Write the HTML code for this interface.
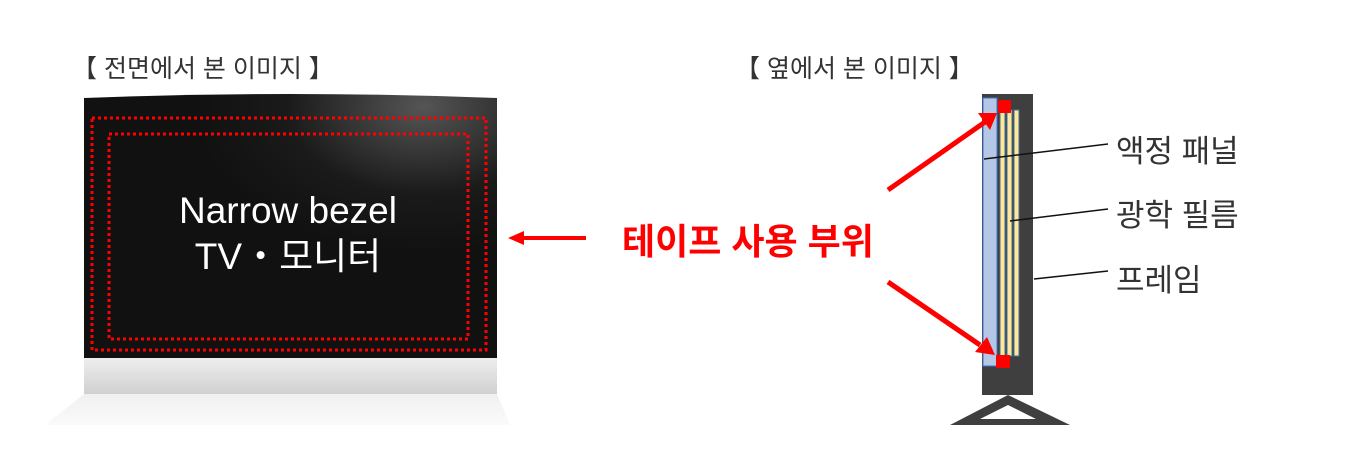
<!DOCTYPE html>
<html><head><meta charset="utf-8"><style>
body{margin:0;width:1360px;height:452px;background:#fff;overflow:hidden;position:relative;font-family:"Liberation Sans","Noto Sans CJK KR",sans-serif}
.t{position:absolute;white-space:nowrap}
</style></head><body>
<svg width="1360" height="452" style="position:absolute;left:0;top:0">
<defs>
<radialGradient id="g" cx="0.82" cy="0.05" r="0.55"><stop offset="0" stop-color="#555"/><stop offset="0.6" stop-color="#1a1a1a"/><stop offset="1" stop-color="#111"/></radialGradient>
<linearGradient id="b" x1="0" y1="0" x2="0" y2="1"><stop offset="0" stop-color="#eee"/><stop offset="1" stop-color="#d0d0d0"/></linearGradient>
<linearGradient id="f" x1="0" y1="0" x2="0" y2="1"><stop offset="0" stop-color="#f0f0f0"/><stop offset="1" stop-color="#fafafa"/></linearGradient>
</defs>
<path d="M84 98 Q290 90 497 98 L497 358 L84 358 Z" fill="url(#g)"/>
<rect x="84" y="358" width="413" height="36" fill="url(#b)"/>
<path d="M84 394 L497 394 L510 425 L45 425 Z" fill="url(#f)"/>
<rect x="92" y="118" width="394" height="232" fill="none" stroke="#f00" stroke-width="3" stroke-dasharray="3 3"/>
<rect x="109" y="134" width="359" height="205" fill="none" stroke="#f00" stroke-width="3" stroke-dasharray="3 3"/>
<line x1="586" y1="238" x2="520" y2="238" stroke="#f00" stroke-width="4"/>
<polygon points="508,238 524,231 524,245" fill="#f00"/>
<rect x="982" y="94" width="51" height="301" fill="#3f3f3f"/>
<rect x="983" y="98" width="14" height="268" fill="#b4c7e7" stroke="#4472c4" stroke-width="1"/>
<rect x="1000" y="108" width="5" height="248" fill="#ffe699" stroke="#41719c"/>
<rect x="1007" y="110" width="5" height="246" fill="#ffe699" stroke="#41719c"/>
<rect x="1014" y="110" width="5" height="246" fill="#ffe699" stroke="#41719c"/>
<rect x="998" y="100" width="13" height="13" fill="#f00"/>
<rect x="996" y="355" width="14" height="13" fill="#f00"/>
<polygon points="1008,395 950,425 1070,425" fill="#3f3f3f"/>
<polygon points="1008,405 980,419 1036,419" fill="#fff"/>
<line x1="888" y1="190" x2="985" y2="122" stroke="#f00" stroke-width="5"/>
<polygon points="997,113 978,113 990,130" fill="#f00"/>
<line x1="888" y1="282" x2="980" y2="345" stroke="#f00" stroke-width="5"/>
<polygon points="995,355 975,352 987,337" fill="#f00"/>
<line x1="984" y1="159" x2="1108" y2="144" stroke="#111" stroke-width="1.5"/>
<line x1="1010" y1="221" x2="1108" y2="209" stroke="#111" stroke-width="1.5"/>
<line x1="1034" y1="279" x2="1108" y2="271" stroke="#111" stroke-width="1.5"/>
</svg>
<div class="t" style="left:72px;top:49px;font-size:25px;color:#333">【 전면에서 본 이미지 】</div>
<div class="t" style="left:735px;top:49px;font-size:25px;color:#333">【 옆에서 본 이미지 】</div>
<div class="t" style="left:168px;top:188px;font-size:37px;color:#fff;text-align:center;width:240px;line-height:46px">Narrow bezel<br>TV・모니터</div>
<div class="t" style="left:622px;top:213px;font-size:36px;color:#f00;font-weight:bold">테이프 사용 부위</div>
<div class="t" style="left:1116px;top:126px;font-size:31px;color:#333">액정 패널</div>
<div class="t" style="left:1116px;top:190px;font-size:31px;color:#333">광학 필름</div>
<div class="t" style="left:1116px;top:255px;font-size:31px;color:#333">프레임</div>
</body></html>
